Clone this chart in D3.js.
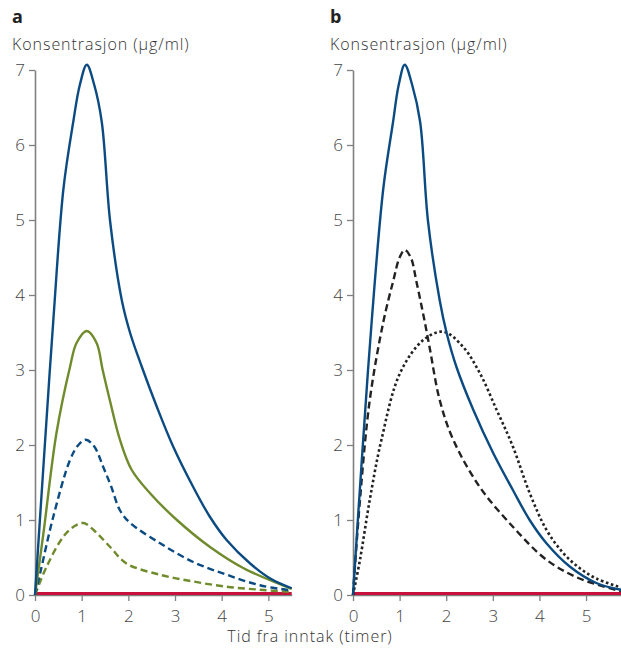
<!DOCTYPE html>
<html>
<head>
<meta charset="utf-8">
<script src="https://d3js.org/d3.v7.min.js"></script>
<style>
  body { margin: 0; background: #fff; }
  text { font-family: "Open Sans", "Liberation Sans", sans-serif; }
</style>
</head>
<body>
<div id="vis"></div>
<script>
// values: [time (timer), konsentrasjon (µg/ml)]
var blueSolidA = [[0,0],[0.2,1.9],[0.39,3.64],[0.61,5.42],[0.82,6.31],[0.96,6.8],[1.11,7.07],[1.27,6.8],[1.43,6.31],[1.61,4.98],[1.86,3.93],[2.04,3.49],[2.29,3.04],[2.61,2.51],[2.96,1.98],[3.39,1.44],[3.75,1.04],[4.11,0.73],[4.61,0.42],[5.04,0.22],[5.5,0.09]];
var greenSolidA = [[0,0],[0.18,0.82],[0.46,2.16],[0.75,3.04],[0.89,3.36],[1.11,3.52],[1.32,3.36],[1.45,3.0],[1.61,2.58],[1.82,2.07],[2.07,1.67],[2.46,1.36],[3.04,1.0],[3.75,0.64],[4.46,0.36],[5.18,0.16],[5.5,0.08]];
var blueDashedA = [[0,0],[0.11,0.29],[0.39,1.04],[0.75,1.8],[0.93,2.0],[1.09,2.07],[1.27,1.98],[1.46,1.71],[1.63,1.45],[1.82,1.13],[2.04,0.96],[2.68,0.69],[3.39,0.44],[4.11,0.27],[4.82,0.13],[5.5,0.06]];
var greenDashedA = [[0,0],[0.25,0.38],[0.61,0.78],[0.85,0.92],[1.04,0.96],[1.25,0.87],[1.61,0.64],[1.96,0.42],[2.68,0.27],[3.39,0.18],[4.11,0.11],[4.82,0.07],[5.5,0.04]];
var redA = [[0,0.02],[5.5,0.02]];

var blueSolidB = [[0,0],[0.2,1.9],[0.4,3.64],[0.65,5.42],[0.86,6.31],[0.98,6.8],[1.11,7.07],[1.27,6.8],[1.44,6.31],[1.61,4.98],[1.86,3.93],[2.01,3.49],[2.22,3.04],[2.58,2.47],[3.01,1.89],[3.43,1.4],[3.79,1.0],[4.15,0.69],[4.65,0.38],[5.22,0.16],[5.75,0.07]];
var blackDashedB = [[0,0],[0.15,1.27],[0.36,2.6],[0.65,3.64],[0.86,4.18],[1.0,4.5],[1.11,4.6],[1.24,4.5],[1.36,4.18],[1.54,3.64],[1.65,3.28],[1.86,2.6],[2.15,2.07],[2.72,1.44],[3.43,0.91],[4.15,0.47],[4.86,0.22],[5.75,0.05]];
var blackDottedB = [[0,0],[0.15,0.47],[0.36,1.27],[0.61,2.07],[1.01,2.96],[1.51,3.4],[1.94,3.51],[2.36,3.31],[2.72,2.96],[3.08,2.47],[3.43,1.98],[3.79,1.36],[4.15,0.87],[4.51,0.56],[4.86,0.36],[5.22,0.22],[5.75,0.1]];
var redB = [[0,0.02],[5.75,0.02]];

var yTicks = [0, 1, 2, 3, 4, 5, 6, 7];
var xTicks = [0, 1, 2, 3, 4, 5];
var panelLetters = ["a", "b"];
var yTitle = "Konsentrasjon (µg/ml)";
var xTitle = "Tid fra inntak (timer)";

var blue = "#0b4b82", green = "#6f8b2c", red = "#c8103c", black = "#222";

var svg = d3.select("#vis").append("svg")
  .attr("width", 621)
  .attr("height", 650);

var y = d3.scaleLinear().domain([0, 7]).range([595, 70]);

var line = function(x) {
  return d3.line()
    .x(function(d) { return x(d[0]); })
    .y(function(d) { return y(d[1]); })
    .curve(d3.curveCatmullRom.alpha(0.5));
};

function panel(x0, xMax, x1, letter, series) {
  var x = d3.scaleLinear().domain([0, xMax]).range([x0, x1]);

  svg.append("text")
    .attr("x", x0 - 23).attr("y", 23)
    .style("font-size", "18px").style("font-weight", "bold").attr("fill", "#222")
    .text(letter);
  svg.append("text")
    .attr("x", x0 - 23).attr("y", 50)
    .style("font-size", "16px").style("font-weight", 300).style("letter-spacing", "0.95px")
    .attr("fill", "#333")
    .text(yTitle);

  var ya = svg.append("g")
    .attr("transform", "translate(" + x0 + ",0)")
    .call(d3.axisLeft(y).tickValues(yTicks).tickFormat(d3.format("d"))
      .tickSize(6).tickPadding(4).tickSizeOuter(0));
  var xa = svg.append("g")
    .attr("transform", "translate(0," + y(0) + ")")
    .call(d3.axisBottom(x).tickValues(xTicks).tickFormat(d3.format("d"))
      .tickSize(6).tickPadding(9).tickSizeOuter(0));

  [ya, xa].forEach(function(a) {
    a.select(".domain").attr("stroke", "#808080").attr("stroke-width", 1.6);
    a.selectAll(".tick line").attr("stroke", "#808080").attr("stroke-width", 1.3);
    a.selectAll(".tick text").attr("fill", "#444")
      .style("font-size", "17px").style("font-weight", 300)
      .style("font-family", "\"Open Sans\", \"Liberation Sans\", sans-serif");
  });

  series.forEach(function(s) {
    svg.append("path")
      .datum(s.data)
      .attr("fill", "none")
      .attr("stroke", s.color)
      .attr("stroke-width", s.width || 2.4)
      .attr("stroke-dasharray", s.dash || null)
      .attr("d", line(x));
  });
}

panel(35, 5.5, 291.7, panelLetters[0], [
  { data: redA, color: red, width: 3 },
  { data: greenDashedA, color: green, dash: "7,4" },
  { data: blueDashedA, color: blue, dash: "7,4" },
  { data: greenSolidA, color: green },
  { data: blueSolidA, color: blue }
]);

panel(353, 5.75, 621, panelLetters[1], [
  { data: redB, color: red, width: 3 },
  { data: blackDottedB, color: black, dash: "2.6,2.6", width: 2.6 },
  { data: blackDashedB, color: black, dash: "7,4" },
  { data: blueSolidB, color: blue }
]);

svg.append("text")
  .attr("x", 310).attr("y", 642)
  .attr("text-anchor", "middle")
  .style("font-size", "16px").style("font-weight", 300).style("letter-spacing", "0.95px")
  .attr("fill", "#333")
  .text(xTitle);
</script>
</body>
</html>
